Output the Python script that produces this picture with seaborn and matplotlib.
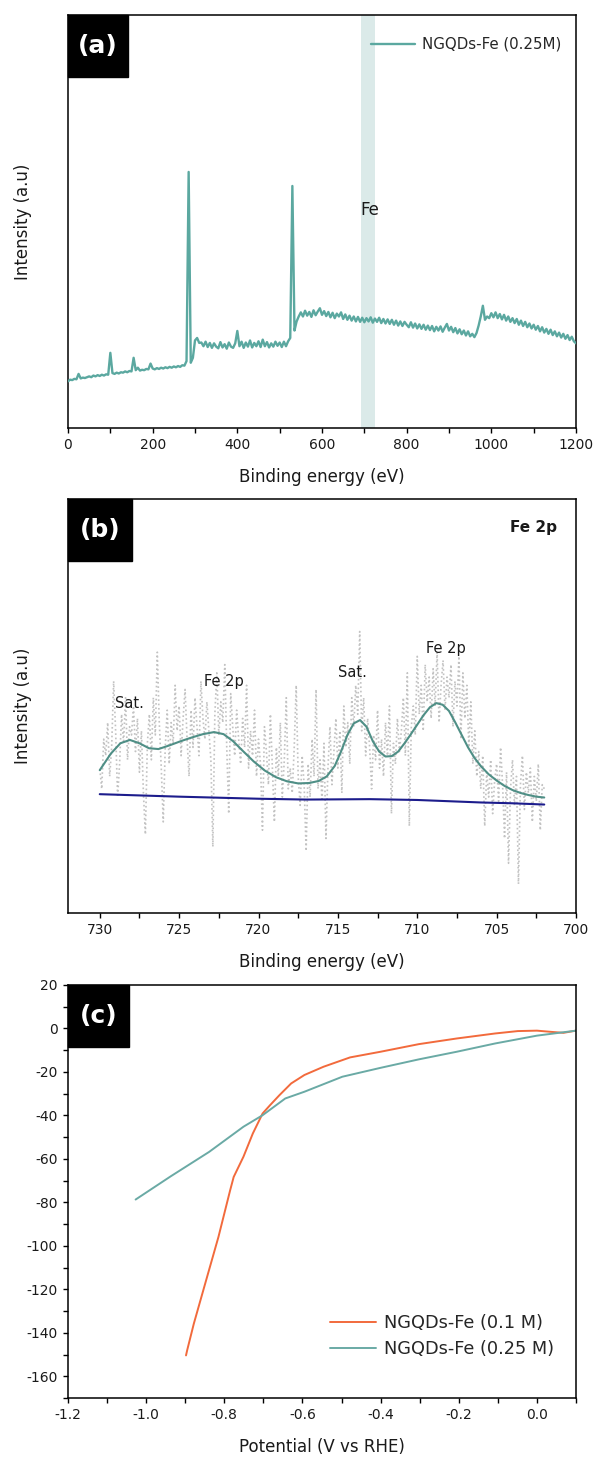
import numpy as np
import pandas as pd
import matplotlib
matplotlib.use("Agg")
import matplotlib.pyplot as plt
from matplotlib.patches import Rectangle
from matplotlib.ticker import MultipleLocator, FormatStrFormatter
import seaborn as sns

# ---------------- data ----------------
# (a) XPS survey, 5 eV steps 0..1200 eV (relative intensity)
survey_ev = list(range(0, 1205, 5))
survey_int = [
    0.113, 0.117, 0.116, 0.119, 0.118, 0.131, 0.120, 0.122, 0.121, 0.123,
    0.125, 0.123, 0.127, 0.125, 0.128, 0.126, 0.129, 0.127, 0.130, 0.129,
    0.182, 0.133, 0.131, 0.134, 0.132, 0.135, 0.134, 0.137, 0.135, 0.138,
    0.137, 0.170, 0.140, 0.146, 0.139, 0.141, 0.140, 0.143, 0.142, 0.156,
    0.144, 0.142, 0.145, 0.143, 0.146, 0.144, 0.147, 0.145, 0.148, 0.146,
    0.149, 0.147, 0.150, 0.148, 0.152, 0.151, 0.162, 0.620, 0.158, 0.170,
    0.212, 0.218, 0.206, 0.207, 0.198, 0.209, 0.196, 0.206, 0.194, 0.205,
    0.197, 0.193, 0.208, 0.195, 0.203, 0.192, 0.207, 0.197, 0.194, 0.205,
    0.235, 0.198, 0.209, 0.194, 0.207, 0.197, 0.212, 0.195, 0.206, 0.198,
    0.210, 0.196, 0.214, 0.198, 0.208, 0.195, 0.205, 0.197, 0.209, 0.199,
    0.207, 0.196, 0.209, 0.198, 0.210, 0.218, 0.586, 0.236, 0.258, 0.270,
    0.280, 0.270, 0.284, 0.272, 0.281, 0.269, 0.285, 0.273, 0.282, 0.290,
    0.274, 0.283, 0.271, 0.281, 0.268, 0.279, 0.266, 0.277, 0.270, 0.280,
    0.264, 0.275, 0.262, 0.272, 0.260, 0.270, 0.258, 0.269, 0.257, 0.267,
    0.256, 0.266, 0.258, 0.268, 0.255, 0.265, 0.257, 0.267, 0.254, 0.264,
    0.253, 0.263, 0.252, 0.262, 0.250, 0.260, 0.248, 0.258, 0.247, 0.257,
    0.250, 0.244, 0.256, 0.243, 0.253, 0.241, 0.251, 0.240, 0.250, 0.238,
    0.248, 0.237, 0.247, 0.234, 0.245, 0.236, 0.246, 0.233, 0.243, 0.252,
    0.236, 0.245, 0.232, 0.242, 0.229, 0.239, 0.227, 0.236, 0.224, 0.234,
    0.222, 0.228, 0.220, 0.230, 0.248, 0.270, 0.296, 0.262, 0.270, 0.266,
    0.278, 0.268, 0.280, 0.266, 0.276, 0.263, 0.274, 0.260, 0.270, 0.257,
    0.266, 0.254, 0.264, 0.250, 0.260, 0.247, 0.257, 0.244, 0.253, 0.241,
    0.250, 0.238, 0.247, 0.234, 0.244, 0.231, 0.240, 0.228, 0.238, 0.225,
    0.234, 0.222, 0.231, 0.219, 0.228, 0.216, 0.225, 0.213, 0.221, 0.210,
    0.205,
]
fe_band = (691, 726)

# (b) Fe 2p high-resolution: raw data (0.125 eV steps, 730 -> 702 eV)
fe2p_ev = [730 - 0.125 * i for i in range(225)]
fe2p_raw = [
    0.35, 0.30, 0.42, 0.38, 0.46, 0.33, 0.40, 0.56,
    0.44, 0.28, 0.36, 0.48, 0.41, 0.52, 0.37, 0.45,
    0.43, 0.50, 0.39, 0.47, 0.34, 0.44, 0.29, 0.19,
    0.41, 0.48, 0.37, 0.52, 0.43, 0.63, 0.46, 0.35,
    0.22, 0.40, 0.49, 0.36, 0.46, 0.41, 0.55, 0.44,
    0.50, 0.38, 0.47, 0.54, 0.42, 0.33, 0.49, 0.40,
    0.52, 0.45, 0.38, 0.56, 0.47, 0.42, 0.51, 0.44,
    0.37, 0.16, 0.48, 0.58, 0.43, 0.51, 0.46, 0.60,
    0.40, 0.24, 0.53, 0.45, 0.38, 0.49, 0.42, 0.36,
    0.47, 0.40, 0.55, 0.35, 0.44, 0.38, 0.49, 0.33,
    0.42, 0.36, 0.20, 0.45, 0.39, 0.31, 0.48, 0.35,
    0.22, 0.40, 0.33, 0.46, 0.28, 0.37, 0.52, 0.30,
    0.35, 0.29, 0.40, 0.55, 0.33, 0.26, 0.38, 0.31,
    0.15, 0.36, 0.28, 0.42, 0.33, 0.54, 0.30, 0.37,
    0.27, 0.41, 0.18, 0.35, 0.45, 0.31, 0.39, 0.47,
    0.35, 0.44, 0.29, 0.50, 0.40, 0.46, 0.36, 0.52,
    0.45, 0.55, 0.48, 0.68, 0.44, 0.52, 0.38, 0.47,
    0.40, 0.30, 0.43, 0.37, 0.49, 0.35, 0.42, 0.33,
    0.46, 0.38, 0.50, 0.24, 0.41, 0.36, 0.47, 0.39,
    0.44, 0.52, 0.38, 0.58, 0.21, 0.45, 0.50, 0.43,
    0.62, 0.48, 0.55, 0.44, 0.60, 0.51, 0.57, 0.47,
    0.59, 0.50, 0.63, 0.46, 0.55, 0.61, 0.49, 0.57,
    0.52, 0.60, 0.45, 0.56, 0.50, 0.62, 0.42, 0.58,
    0.47, 0.55, 0.40, 0.51, 0.36, 0.44, 0.33, 0.39,
    0.30, 0.38, 0.21, 0.34, 0.28, 0.37, 0.24, 0.32,
    0.36, 0.27, 0.40, 0.31, 0.18, 0.34, 0.12, 0.30,
    0.37, 0.26, 0.33, 0.07, 0.31, 0.38, 0.25, 0.34,
    0.29, 0.35, 0.22, 0.33, 0.27, 0.36, 0.20, 0.31,
    0.30,
]
fit_ev = [730.0, 729.3, 728.7, 728.1, 727.5, 726.9, 726.3, 725.6, 724.9, 724.2,
          723.5, 722.8, 722.2, 721.6, 721.0, 720.3, 719.6, 718.9, 718.2, 717.5,
          716.8, 716.2, 715.7, 715.2, 714.8, 714.4, 714.0, 713.6, 713.2, 712.8,
          712.4, 712.0, 711.6, 711.2, 710.8, 710.4, 710.0, 709.6, 709.2, 708.8,
          708.4, 708.0, 707.6, 707.2, 706.8, 706.4, 706.0, 705.5, 705.0, 704.5,
          704.0, 703.5, 703.0, 702.5, 702.0]
fit_int = [0.345, 0.385, 0.410, 0.418, 0.410, 0.398, 0.396, 0.405, 0.415, 0.424,
           0.432, 0.437, 0.432, 0.415, 0.392, 0.366, 0.344, 0.328, 0.318, 0.313,
           0.314, 0.319, 0.330, 0.355, 0.390, 0.430, 0.458, 0.466, 0.450, 0.415,
           0.390, 0.378, 0.379, 0.390, 0.410, 0.432, 0.455, 0.478, 0.497, 0.507,
           0.503, 0.488, 0.460, 0.430, 0.400, 0.375, 0.355, 0.335, 0.320, 0.307,
           0.297, 0.290, 0.285, 0.281, 0.279]
bg_ev = [730, 725, 720, 717, 713, 710, 706, 704, 702]
bg_int = [0.287, 0.281, 0.276, 0.274, 0.275, 0.273, 0.267, 0.265, 0.262]
fe2p_labels = ["Sat.", "Fe 2p", "Sat.", "Fe 2p"]
fe2p_label_x = [728.1, 722.2, 714.1, 708.2]
fe2p_label_y = [0.507, 0.558, 0.580, 0.638]

# (c) LSV curves
pot_01 = [-0.898, -0.895, -0.878, -0.849, -0.815, -0.785, -0.776, -0.751, -0.727,
          -0.702, -0.683, -0.659, -0.629, -0.595, -0.546, -0.478, -0.400, -0.302,
          -0.205, -0.107, -0.049, 0.000, 0.039, 0.068, 0.100]
cur_01 = [-150.4, -148.0, -135.8, -117.4, -95.9, -74.4, -68.3, -59.0, -48.3,
          -39.1, -35.3, -30.7, -25.3, -21.4, -17.6, -13.3, -10.7, -7.2,
          -4.6, -2.3, -1.2, -1.0, -1.6, -2.0, -1.0]
pot_025 = [-1.027, -0.937, -0.839, -0.751, -0.702, -0.644, -0.595, -0.498, -0.400,
           -0.302, -0.205, -0.107, 0.000, 0.100]
cur_025 = [-78.7, -68.0, -56.8, -45.2, -39.9, -32.2, -29.1, -22.2, -18.1,
           -14.2, -10.7, -6.9, -3.3, -1.0]

# ---------------- style ----------------
sns.set_theme(style="ticks")
plt.rcParams["font.family"] = ["DejaVu Sans"]
plt.rcParams["axes.unicode_minus"] = False
plt.rcParams["axes.linewidth"] = 1.1
for k in ["xtick.major.size", "xtick.minor.size", "ytick.major.size", "ytick.minor.size"]:
    plt.rcParams[k] = 3.5
for k in ["xtick.major.width", "xtick.minor.width", "ytick.major.width", "ytick.minor.width"]:
    plt.rcParams[k] = 1.0

TEAL = "#5ba8a0"
FIT = "#4f8f86"
NAVY = "#1c1c8c"
ORANGE = "#f26a3c"
TEAL_C = "#6aaaa5"
GRAY = "#c2c2c2"
TXT = "#1a1a1a"

fig = plt.figure(figsize=(5.95, 14.68), dpi=100)
W = 595.0
H = 1468.0
L, R = 68, 576
ax_a = fig.add_axes([L / W, 1 - 428 / H, (R - L) / W, (428 - 15) / H])
ax_b = fig.add_axes([L / W, 1 - 913 / H, (R - L) / W, (913 - 499) / H])
ax_c = fig.add_axes([L / W, 1 - 1398 / H, (R - L) / W, (1398 - 985) / H])


def tag(ax, text, w, h):
    ax.add_patch(Rectangle((0, 1 - h), w, h, transform=ax.transAxes,
                           facecolor="black", edgecolor="black", zorder=10, clip_on=False))
    ax.text(w / 2, 1 - h / 2, text, transform=ax.transAxes, color="white",
            fontsize=18, fontweight="bold", ha="center", va="center", zorder=11)


def frame(ax):
    for s in ax.spines.values():
        s.set_visible(True)
        s.set_color("black")
    ax.tick_params(axis="both", which="both", direction="out", colors="black",
                   labelsize=10, pad=4, top=False, right=False, labelcolor=TXT)


# ---------------- (a) ----------------
df_a = pd.DataFrame({"ev": survey_ev, "int": survey_int})
ax_a.axvspan(fe_band[0], fe_band[1], color="#d7e8e7", alpha=0.9, lw=0, zorder=0)
sns.lineplot(data=df_a, x="ev", y="int", ax=ax_a, color=TEAL, lw=1.7,
             label="NGQDs-Fe (0.25M)", zorder=3)
ax_a.text(713, 0.528, "Fe", fontsize=12, ha="center", va="center", color=TXT)
ax_a.set_xlim(0, 1200)
ax_a.set_ylim(0, 1)
ax_a.xaxis.set_major_locator(MultipleLocator(200))
ax_a.xaxis.set_minor_locator(MultipleLocator(100))
ax_a.set_yticks([])
ax_a.set_xlabel("Binding energy (eV)", fontsize=12, labelpad=11, color=TXT)
ax_a.set_ylabel("Intensity (a.u)", fontsize=12, labelpad=26, color=TXT)
frame(ax_a)
ax_a.legend(loc="upper right", bbox_to_anchor=(0.985, 0.965), frameon=False,
            fontsize=10.8, handlelength=2.9, handletextpad=0.45, borderpad=0)
tag(ax_a, "(a)", 0.118, 0.15)

# ---------------- (b) ----------------
df_raw = pd.DataFrame({"ev": fe2p_ev, "int": fe2p_raw})
df_fit = pd.DataFrame({"ev": fit_ev, "int": fit_int})
df_bg = pd.DataFrame({"ev": bg_ev, "int": bg_int})
sns.lineplot(data=df_raw, x="ev", y="int", ax=ax_b, color=GRAY, lw=1.2,
             linestyle=(0, (1.0, 1.6)), zorder=1)
sns.lineplot(data=df_bg, x="ev", y="int", ax=ax_b, color=NAVY, lw=1.5, zorder=3)
sns.lineplot(data=df_fit, x="ev", y="int", ax=ax_b, color=FIT, lw=1.5, zorder=4)
for t, x, y in zip(fe2p_labels, fe2p_label_x, fe2p_label_y):
    ax_b.text(x, y, t, fontsize=10.5, ha="center", va="center", color=TXT, zorder=5)
ax_b.text(0.963, 0.93, "Fe 2p", transform=ax_b.transAxes, fontsize=11,
          fontweight="bold", ha="right", va="center", color=TXT)
ax_b.set_xlim(732, 700)
ax_b.set_ylim(0, 1)
ax_b.xaxis.set_major_locator(MultipleLocator(5))
ax_b.xaxis.set_minor_locator(MultipleLocator(2.5))
ax_b.set_yticks([])
ax_b.set_xlabel("Binding energy (eV)", fontsize=12, labelpad=11, color=TXT)
ax_b.set_ylabel("Intensity (a.u)", fontsize=12, labelpad=26, color=TXT)
frame(ax_b)
tag(ax_b, "(b)", 0.125, 0.15)

# ---------------- (c) ----------------
df_c1 = pd.DataFrame({"pot": pot_01, "cur": cur_01})
df_c2 = pd.DataFrame({"pot": pot_025, "cur": cur_025})
sns.lineplot(data=df_c1, x="pot", y="cur", ax=ax_c, color=ORANGE, lw=1.4,
             sort=False, label="NGQDs-Fe (0.1 M)")
sns.lineplot(data=df_c2, x="pot", y="cur", ax=ax_c, color=TEAL_C, lw=1.4,
             sort=False, label="NGQDs-Fe (0.25 M)")
ax_c.set_xlim(-1.2, 0.1)
ax_c.set_ylim(-170, 20)
ax_c.xaxis.set_major_locator(MultipleLocator(0.2))
ax_c.xaxis.set_minor_locator(MultipleLocator(0.1))
ax_c.xaxis.set_major_formatter(FormatStrFormatter("%.1f"))
ax_c.yaxis.set_major_locator(MultipleLocator(20))
ax_c.yaxis.set_minor_locator(MultipleLocator(10))
ax_c.set_xlabel("Potential (V vs RHE)", fontsize=12, labelpad=11, color=TXT)
ax_c.set_ylabel("")
frame(ax_c)
ax_c.legend(loc="lower right", bbox_to_anchor=(0.975, 0.075), frameon=False,
            fontsize=12.8, handlelength=2.6, handletextpad=0.45, borderpad=0,
            labelspacing=0.45)
tag(ax_c, "(c)", 0.12, 0.15)

fig.savefig("out.png", dpi=100)
